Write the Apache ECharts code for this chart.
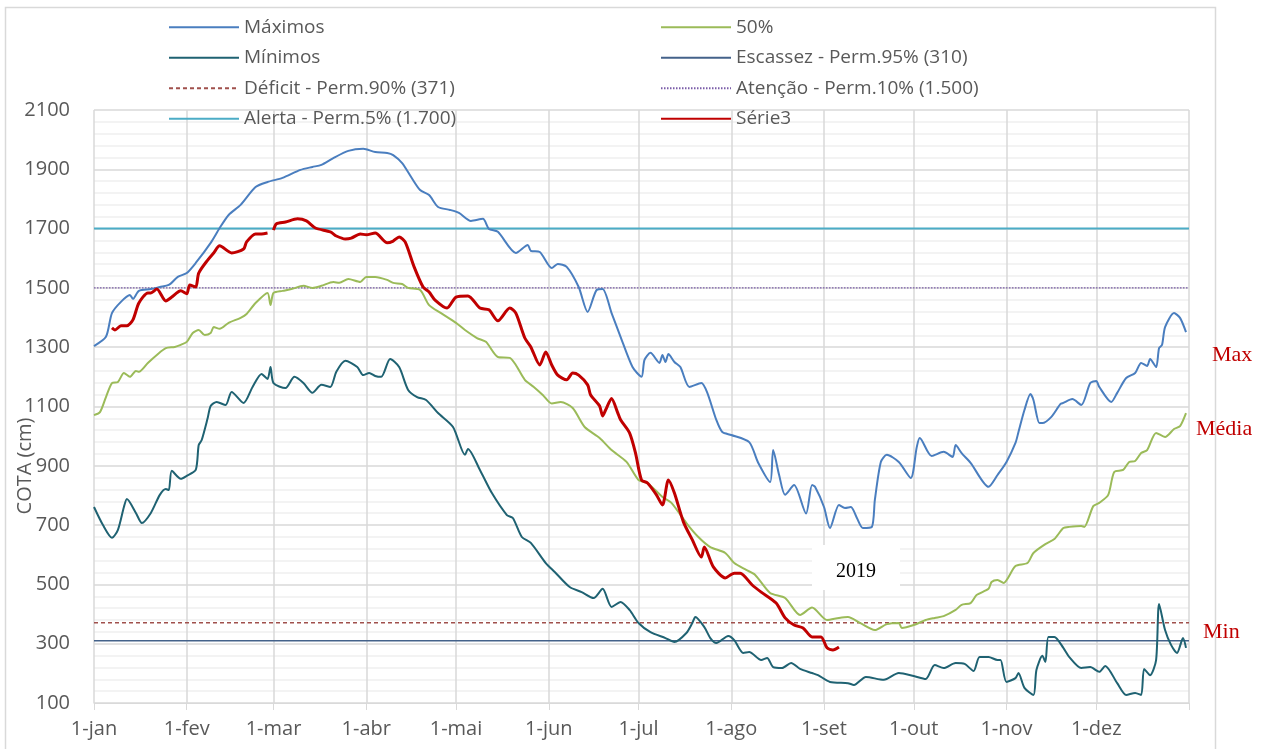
<!DOCTYPE html>
<html>
<head>
<meta charset="utf-8">
<script src="https://cdn.jsdelivr.net/npm/echarts@6/dist/echarts.min.js"></script>
<style>
  html, body { margin: 0; padding: 0; background: #fff; }
  #chart { width: 1263px; height: 749px; }
</style>
</head>
<body>
<div id="chart"></div>
<script>
// month labels (leap year, 366 days)
const months = ['jan', 'fev', 'mar', 'abr', 'mai', 'jun', 'jul', 'ago', 'set', 'out', 'nov', 'dez']
const monthDays = [31, 29, 31, 30, 31, 30, 31, 31, 30, 31, 30, 31]

// [day of year (0 = 1-jan), cota cm]
const maximos = [[0,1304],[4,1335],[6,1415],[9,1453],[12,1476],[13,1463],[15,1490],[19,1496],[22,1503],[25,1510],[28,1537],[31,1550],[34,1584],[39,1652],[42,1702],[45,1746],[49,1780],[54,1840],[58,1857],[63,1871],[69,1898],[73,1908],[76,1915],[80,1938],[85,1962],[90,1969],[94,1958],[98,1955],[100,1948],[103,1921],[106,1874],[109,1830],[112,1813],[115,1773],[119,1763],[122,1753],[126,1726],[130,1733],[132,1699],[135,1689],[141,1618],[145,1645],[146,1625],[149,1621],[153,1567],[155,1581],[158,1571],[162,1503],[165,1419],[168,1493],[170,1496],[173,1415],[176,1335],[180,1233],[183,1200],[184,1257],[186,1281],[189,1247],[190,1274],[191,1250],[192,1277],[194,1250],[196,1233],[199,1166],[203,1179],[205,1146],[208,1055],[210,1014],[213,1004],[219,980],[222,910],[226,845],[227,953],[229,869],[231,802],[234,835],[238,739],[240,835],[241,829],[244,761],[246,690],[249,768],[251,758],[253,761],[255,724],[257,690],[260,694],[261,785],[263,913],[265,937],[269,913],[273,859],[275,963],[276,994],[280,933],[284,947],[287,930],[288,970],[290,943],[293,910],[299,829],[302,869],[305,913],[308,977],[309,1014],[311,1088],[313,1142],[314,1122],[316,1044],[317,1044],[320,1065],[323,1108],[324,1112],[327,1125],[330,1105],[333,1179],[335,1186],[336,1166],[340,1115],[342,1146],[345,1196],[348,1213],[350,1247],[352,1237],[353,1260],[355,1233],[356,1297],[357,1308],[358,1368],[361,1415],[363,1399],[365,1351]]

const mediana = [[0,1071],[2,1081],[4,1132],[6,1179],[8,1183],[10,1213],[12,1200],[14,1220],[15,1217],[18,1247],[21,1274],[24,1297],[27,1301],[29,1308],[31,1318],[33,1348],[35,1358],[37,1341],[39,1348],[40,1368],[42,1362],[45,1382],[49,1399],[51,1412],[54,1449],[58,1483],[59,1442],[60,1483],[63,1490],[66,1496],[70,1507],[73,1500],[76,1507],[80,1520],[82,1517],[85,1530],[89,1520],[91,1537],[94,1537],[98,1527],[100,1517],[103,1513],[105,1500],[109,1493],[112,1442],[116,1415],[121,1382],[124,1358],[128,1331],[131,1318],[135,1267],[139,1264],[141,1240],[144,1190],[147,1166],[150,1139],[153,1110],[156,1115],[160,1095],[164,1031],[169,994],[173,953],[178,913],[182,852],[185,842],[190,795],[193,775],[198,707],[202,660],[206,626],[211,606],[214,572],[218,549],[221,532],[226,471],[231,454],[236,397],[240,422],[245,380],[249,387],[252,390],[256,370],[261,346],[265,366],[269,370],[270,353],[274,363],[278,380],[281,387],[284,393],[288,414],[290,431],[293,437],[295,464],[299,485],[300,508],[302,515],[304,505],[308,562],[312,572],[314,606],[318,636],[321,653],[324,690],[326,694],[330,697],[331,694],[334,764],[336,775],[339,802],[341,879],[344,886],[346,913],[348,916],[350,943],[352,953],[355,1011],[358,997],[361,1024],[363,1034],[365,1078]]

const minimos = [[0,761],[3,700],[6,657],[8,684],[10,761],[11,788],[14,741],[16,707],[19,741],[22,802],[24,822],[25,818],[26,883],[29,856],[31,866],[34,886],[35,970],[36,987],[38,1061],[39,1102],[41,1115],[44,1105],[46,1149],[50,1112],[53,1166],[56,1210],[58,1193],[59,1233],[60,1179],[64,1162],[67,1200],[70,1179],[73,1146],[76,1173],[79,1166],[81,1217],[84,1254],[88,1233],[90,1206],[92,1213],[94,1203],[96,1200],[99,1260],[102,1233],[105,1156],[108,1132],[111,1122],[115,1078],[120,1031],[124,937],[125,957],[129,886],[133,808],[138,734],[140,724],[143,660],[146,640],[151,572],[154,542],[159,491],[163,474],[167,454],[170,485],[173,424],[176,441],[179,414],[182,370],[186,339],[191,319],[194,306],[198,336],[200,370],[201,390],[204,356],[206,319],[208,302],[212,326],[214,312],[217,269],[219,272],[223,245],[225,252],[227,221],[230,218],[233,235],[236,215],[240,201],[242,194],[246,171],[252,167],[254,161],[258,188],[264,178],[269,201],[274,191],[278,181],[281,228],[284,218],[288,235],[291,232],[294,208],[296,255],[299,255],[302,245],[303,245],[305,171],[308,184],[309,201],[311,151],[314,127],[315,211],[317,259],[318,238],[319,323],[321,323],[324,286],[326,255],[330,218],[333,221],[336,205],[338,225],[342,167],[345,127],[348,134],[350,127],[351,215],[353,194],[355,245],[356,434],[358,346],[360,296],[362,269],[364,319],[365,286]]

// 2019 (Série3), 29-fev missing
const serie3 = [[6,1365],[7,1358],[9,1372],[11,1372],[13,1392],[15,1449],[18,1483],[19,1483],[21,1496],[24,1456],[26,1469],[29,1490],[31,1480],[32,1510],[34,1503],[35,1550],[38,1594],[40,1618],[42,1642],[46,1618],[50,1631],[51,1655],[54,1682],[56,1682],[58,1685],[59,null],[60,1695],[61,1716],[64,1722],[68,1733],[71,1726],[74,1702],[79,1689],[81,1675],[84,1665],[86,1668],[89,1682],[91,1679],[94,1685],[98,1652],[100,1658],[102,1672],[104,1655],[107,1571],[110,1503],[112,1486],[114,1459],[118,1432],[121,1469],[125,1473],[129,1432],[132,1426],[135,1389],[139,1432],[141,1415],[144,1331],[146,1301],[149,1240],[151,1284],[153,1240],[155,1206],[158,1190],[160,1213],[162,1206],[165,1173],[166,1139],[169,1102],[170,1068],[171,1088],[173,1127],[175,1080],[176,1055],[179,1011],[181,943],[183,852],[185,842],[188,802],[190,768],[192,852],[194,808],[197,711],[200,650],[203,592],[204,626],[207,559],[211,522],[214,538],[216,538],[220,498],[223,474],[228,437],[231,387],[234,363],[237,353],[240,323],[243,323],[245,286],[247,279],[249,289]]

// reference levels
const escassez = 310
const deficit = 371
const atencao = 1500
const alerta = 1700

const days = []
months.forEach((m, i) => {
  for (let d = 1; d <= monthDays[i]; d++) days.push(d + '-' + m)
})
days.push('1-jan ') // start of next year, closes the plot
const lastIdx = days.length - 1

const isMonthStart = (idx, val) => val.split('-')[0] === '1'
const levelData = v => [[0, v], [lastIdx, v]]

const chart = echarts.init(document.getElementById('chart'))
const font = '"Open Sans", sans-serif'
const gray = '#595959'

const legendBase = {
  orient: 'vertical',
  top: 17,
  padding: 0,
  itemGap: 10,
  itemWidth: 70,
  itemHeight: 14,
  itemStyle: { opacity: 0 },
  textStyle: { color: gray, fontSize: 19, fontFamily: font, lineHeight: 20.5 }
}

chart.setOption({
  animation: false,
  grid: { left: 94, right: 74, top: 110, bottom: 46 },
  legend: [
    Object.assign({}, legendBase, {
      left: 168,
      data: ['Máximos', 'Mínimos', 'Déficit - Perm.90% (371)', 'Alerta - Perm.5% (1.700)']
    }),
    Object.assign({}, legendBase, {
      left: 660,
      data: ['50%', 'Escassez - Perm.95% (310)', 'Atenção - Perm.10% (1.500)', 'Série3']
    })
  ],
  xAxis: {
    type: 'category',
    data: days,
    boundaryGap: false,
    axisLine: { lineStyle: { color: '#d9d9d9' } },
    axisTick: { interval: isMonthStart, length: 7, lineStyle: { color: '#d9d9d9' } },
    axisLabel: {
      interval: (idx, val) => isMonthStart(idx, val) && idx < lastIdx,
      color: gray, fontSize: 20, fontFamily: font, margin: 16
    },
    splitLine: { show: true, interval: isMonthStart, lineStyle: { color: '#d9d9d9', width: 1.5 } }
  },
  yAxis: {
    type: 'value',
    min: 100,
    max: 2100,
    interval: 200,
    axisLine: { show: false },
    axisTick: { show: false },
    minorTick: { show: false, splitNumber: 5 },
    axisLabel: { color: gray, fontSize: 20, fontFamily: font, margin: 24, formatter: v => String(v) },
    splitLine: { lineStyle: { color: '#d9d9d9', width: 1.5 } },
    minorSplitLine: { show: true, lineStyle: { color: '#efefef', width: 1.5 } }
  },
  series: [
    {
      name: 'Escassez - Perm.95% (310)', type: 'line', symbol: 'none', data: levelData(escassez),
      lineStyle: { color: '#44628a', width: 1.5 }, itemStyle: { color: '#44628a' }
    },
    {
      name: 'Déficit - Perm.90% (371)', type: 'line', symbol: 'none', data: levelData(deficit),
      lineStyle: { color: '#a0504c', width: 1.5, type: [4, 3] }, itemStyle: { color: '#a0504c' }
    },
    {
      name: 'Atenção - Perm.10% (1.500)', type: 'line', symbol: 'none', data: levelData(atencao),
      lineStyle: { color: '#7a5ca8', width: 1.2, type: [1.5, 1.5] }, itemStyle: { color: '#7a5ca8' }
    },
    {
      name: 'Alerta - Perm.5% (1.700)', type: 'line', symbol: 'none', data: levelData(alerta),
      lineStyle: { color: '#4bacc6', width: 2 }, itemStyle: { color: '#4bacc6' }
    },
    {
      name: 'Máximos', type: 'line', symbol: 'none', smooth: 0.25, data: maximos,
      lineStyle: { color: '#4a7ebf', width: 2 }, itemStyle: { color: '#4a7ebf' }
    },
    {
      name: '50%', type: 'line', symbol: 'none', smooth: 0.25, data: mediana,
      lineStyle: { color: '#9bbb59', width: 2 }, itemStyle: { color: '#9bbb59' }
    },
    {
      name: 'Mínimos', type: 'line', symbol: 'none', smooth: 0.25, data: minimos,
      lineStyle: { color: '#1f6272', width: 2 }, itemStyle: { color: '#1f6272' }
    },
    {
      name: 'Série3', type: 'line', symbol: 'none', smooth: 0.25, data: serie3, connectNulls: false,
      lineStyle: { color: '#c00000', width: 3 }, itemStyle: { color: '#c00000' }
    }
  ],
  graphic: [
    {
      type: 'rect', silent: true, z: -10,
      shape: { x: 5.5, y: 7.5, width: 1210, height: 800 },
      style: { fill: 'none', stroke: '#d9d9d9', lineWidth: 1.5 }
    },
    {
      type: 'text', x: 25, y: 466, rotation: Math.PI / 2,
      style: { text: 'COTA (cm)', fill: gray, font: '20px ' + font, textAlign: 'center', textVerticalAlign: 'middle' }
    },
    {
      type: 'rect', z: 100,
      shape: { x: 812, y: 545, width: 88, height: 45 },
      style: { fill: '#fff' }
    },
    {
      type: 'text', z: 101, x: 856, y: 572,
      style: { text: '2019', fill: '#000', font: '20px "Liberation Serif", serif', textAlign: 'center', textVerticalAlign: 'middle' }
    },
    {
      type: 'text', x: 1212, y: 355,
      style: { text: 'Max', fill: '#c00000', font: '22px "Liberation Serif", serif', textVerticalAlign: 'middle' }
    },
    {
      type: 'text', x: 1196, y: 429,
      style: { text: 'Média', fill: '#c00000', font: '22px "Liberation Serif", serif', textVerticalAlign: 'middle' }
    },
    {
      type: 'text', x: 1203, y: 632,
      style: { text: 'Min', fill: '#c00000', font: '22px "Liberation Serif", serif', textVerticalAlign: 'middle' }
    }
  ]
})
</script>
</body>
</html>
